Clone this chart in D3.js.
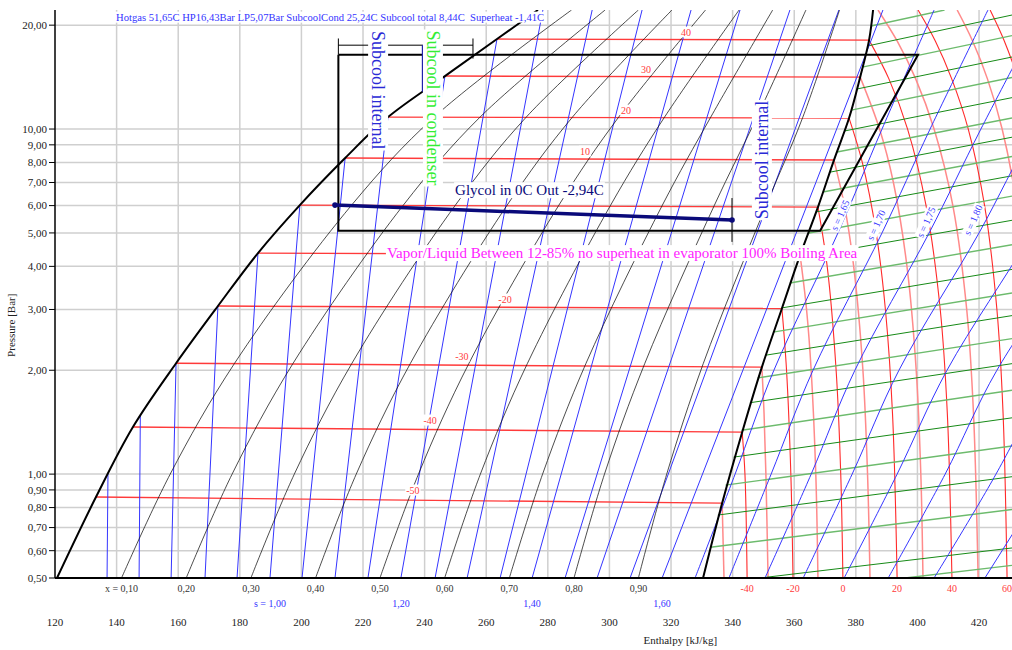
<!DOCTYPE html>
<html>
<head>
<meta charset="utf-8">
<script src="https://cdn.jsdelivr.net/npm/d3@7"></script>
<style>
  body { margin: 0; background: #fff; }
  svg { display: block; font-family: "Liberation Serif", "Times New Roman", serif; }
</style>
</head>
<body>
<svg id="chart" width="1012" height="650"></svg>
<script>
// ---- data ----
const hTicks = [120, 140, 160, 180, 200, 220, 240, 260, 280, 300, 320, 340, 360, 380, 400, 420];
const pTicks = [0.5, 0.6, 0.7, 0.8, 0.9, 1, 2, 3, 4, 5, 6, 7, 8, 9, 10, 20];
const pTickLabels = ["0,50", "0,60", "0,70", "0,80", "0,90", "1,00", "2,00", "3,00", "4,00", "5,00", "6,00", "7,00", "8,00", "9,00", "10,00", "20,00"];

// saturation dome (bar, kJ/kg)
const satLiqP = [0.5, 0.858, 1.369, 2.095, 3.07, 4.37, 6.02, 8.24, 10.83, 14.24, 18.23, 22.13];
const satLiqH = [120.65, 133.3, 145.3, 159.3, 172.9, 185.9, 199.5, 214.2, 228.1, 246.6, 263.5, 276.8];
const satVapP = [0.5, 0.824, 1.323, 2.042, 3.02, 4.31, 5.94, 8.13, 10.76, 14.14, 18.10, 22.13];
const satVapH = [330.4, 336.6, 343.1, 349.5, 356.0, 361.9, 367.7, 372.9, 377.8, 381.4, 384.3, 385.6];

// two-phase isotherms (index 1..10 of the dome arrays); 0 and -10 labels are hidden under notes
const isoTemps = [-50, -40, -30, -20, -10, 0, 10, 20, 30, 40];
const isoLabelH = [236.2, 241.8, 252.1, 266.1, null, null, 292.1, 305.4, 311.9, 324.9];

// quality lines
const qualities = [0.1, 0.2, 0.3, 0.4, 0.5, 0.6, 0.7, 0.8, 0.9];
const qualityLabels = ["x = 0,10", "0,20", "0,30", "0,40", "0,50", "0,60", "0,70", "0,80", "0,90"];
const qualityP = [0.5, 1.0, 2.095, 6.02, 10.83, 22.13];
const qualityH = [
  [141.6, 157.4, 178.3, 216.3, 243.1, 287.7],
  [162.6, 177.5, 197.3, 233.1, 258.0, 298.6],
  [183.6, 197.7, 216.4, 250.0, 273.0, 309.4],
  [204.6, 217.8, 235.4, 266.8, 288.0, 320.3],
  [225.5, 238.0, 254.4, 283.6, 303.0, 331.2],
  [246.5, 258.1, 273.4, 300.4, 317.9, 342.1],
  [267.5, 278.3, 292.4, 317.2, 332.9, 353.0],
  [288.5, 298.4, 311.5, 334.1, 347.9, 363.8],
  [309.4, 318.6, 330.5, 350.9, 362.8, 374.7]
];

// isentropes inside the dome: bottom at 0.5 bar, top on liquid line or chart top
const sTwoPhase = [0.75, 0.80, 0.85, 0.90, 0.95, 1.00, 1.05, 1.10, 1.15, 1.20, 1.25, 1.30, 1.35, 1.40, 1.45, 1.50, 1.55, 1.60];
const sBottomH = [136.9, 147.3, 157.7, 168.7, 179.1, 189.8, 200.2, 210.9, 221.6, 232.3, 243.4, 253.8, 264.5, 274.9, 285.6, 296.0, 306.7, 317.1];
const sTopH = [137.2, 147.7, 159.3, 172.9, 185.9, 199.5, 214.2, 228.1, 246.6, 263.5, 278.4, 294.4, 310.6, 326.5, 342.4, 358.6, 374.5, 388.8];
const sTopP = [1.0, 1.473, 2.095, 3.07, 4.37, 6.02, 8.24, 10.83, 14.24, 18.23, 22.13, 22.13, 22.13, 22.13, 22.13, 22.13, 22.13, 22.13];
const sBottomLabels = { "1.00": "s = 1,00", "1.20": "1,20", "1.40": "1,40", "1.60": "1,60" };

// superheated isentropes
const sSuper = [1.65, 1.70, 1.75, 1.80, 1.85, 1.90, 1.95, 2.00, 2.05];
const sSuperP = [0.5, 1, 2, 5, 10, 22.13];
const sSuperH = [
  [327.8, 340.8, 353.4, 374.2, 388.5, 405.4],
  [338.8, 352.5, 366.1, 388.5, 404.1, 422.9],
  [350.5, 365.5, 379.7, 403.8, 420.6, 440.8],
  [362.9, 378.8, 394.0, 420.0, 437.9, 462.2],
  [376.2, 393.4, 409.6, 437.2, 456.0],
  [390.5, 409.0, 425.8, 455.4],
  [405.4, 425.5, 443.1],
  [421.9, 443.1],
  [439.5, 461.9]
];
const sLabelText = ["s = 1,65", "s = 1,70", "s = 1,75", "s = 1,80"];
const sLabelH = [374.9, 386.6, 402.8, 418.1];
const sLabelP = [5.63, 5.27, 5.37, 5.45];

// superheated isotherms
const shTemps = [-50, -40, -30, -20, -10, 0, 10, 20, 30, 40, 50, 60, 70, 80];
const shPoints = [
  [[336.6, 0.824], [337.2, 0.5]],
  [[343.1, 1.323], [344.0, 1.0], [344.7, 0.5]],
  [[349.5, 2.042], [350.2, 1.5], [350.8, 1.0], [351.5, 0.5]],
  [[356.0, 3.02], [357.5, 2.0], [358.9, 1.0], [359.6, 0.5]],
  [[361.9, 4.31], [364.0, 3.0], [365.5, 2.0], [367.0, 1.0], [367.7, 0.5]],
  [[367.7, 5.94], [370.7, 4.0], [373.6, 2.0], [375.1, 1.0], [375.8, 0.5]],
  [[372.9, 8.13], [376.3, 6.0], [379.3, 4.0], [382.3, 2.0], [383.8, 1.0], [384.6, 0.5]],
  [[377.8, 10.76], [382.1, 8.0], [386.6, 5.0], [389.6, 3.0], [391.9, 1.5], [393.4, 0.5]],
  [[381.4, 14.14], [387.7, 10.0], [392.2, 7.0], [396.6, 4.0], [399.6, 2.0], [401.1, 1.0], [401.8, 0.5]],
  [[384.3, 18.10], [390.7, 14.0], [396.8, 10.0], [402.8, 6.0], [407.4, 3.0], [409.7, 1.5], [411.2, 0.5]],
  [[387.2, 22.13], [393.4, 18.0], [399.4, 14.0], [405.4, 10.0], [411.5, 6.0], [416.0, 3.0], [418.2, 1.5], [419.7, 0.5]],
  [[400.2, 22.13], [405.8, 18.0], [411.1, 14.0], [416.5, 10.0], [421.8, 6.0], [425.8, 3.0], [427.8, 1.5], [429.1, 0.5]],
  [[412.9, 22.13], [417.9, 18.0], [422.7, 14.0], [427.5, 10.0], [432.3, 6.0], [436.0, 3.0]],
  [[423.6, 22.13], [428.2, 18.0], [432.6, 14.0], [437.0, 10.0]]
];
const shLabelTemps = [-40, -20, 0, 20, 40, 60];

// isochores (start on vapour line, end on chart edge)
const vStartH = [384.9, 383.7, 382.1, 380.3, 378.5, 376.3, 373.9, 371.6, 369.3, 367.0, 364.4, 361.3, 358.6, 355.8, 353.1, 350.6, 348.1, 345.6, 342.9, 340.3, 337.7, 335.2, 332.8, 348.9, 396.0];
const vStartP = [19.89, 17.40, 15.12, 13.06, 11.35, 9.87, 8.58, 7.50, 6.57, 5.75, 4.99, 4.23, 3.58, 3.03, 2.58, 2.21, 1.90, 1.61, 1.34, 1.12, 0.929, 0.761, 0.614, 0.5, 0.5];
const vEndH = [408.8, 430.7, 430.7, 430.7, 430.7, 430.7, 430.7, 430.7, 430.7, 430.7, 430.7, 430.7, 430.7, 430.7, 430.7, 430.7, 430.7, 430.7, 430.7, 430.7, 430.7, 430.7, 430.7, 430.7, 430.7];
const vEndP = [22.13, 21.40, 18.66, 16.17, 14.10, 12.33, 10.77, 9.47, 8.33, 7.32, 6.39, 5.44, 4.62, 3.92, 3.35, 2.88, 2.47, 2.09, 1.75, 1.456, 1.206, 0.983, 0.790, 0.611, 0.544];

// refrigeration cycle
const cycleH = [212.0, 212.0, 368.4, 400.2, 212.0];
const cycleP = [16.43, 5.07, 5.07, 16.43, 16.43];
const glycolH = [210.9, 339.8];
const glycolP = [6.02, 5.45];

// ---- drawing ----
const svg = d3.select("#chart");
const x = d3.scaleLinear().domain([120, 430.7]).range([55, 1012]);
const y = d3.scaleLog().domain([0.5, 22.13]).range([578, 10]);
const line = d3.line().x(d => x(d[0])).y(d => y(d[1]));
const smooth = d3.line().x(d => x(d[0])).y(d => y(d[1])).curve(d3.curveCatmullRom);

svg.append("defs").append("clipPath").attr("id", "plot")
  .append("rect").attr("x", 55).attr("y", 10).attr("width", 957).attr("height", 568);

// grid
const grid = svg.append("g").attr("stroke", "#cfcfcf").attr("stroke-width", 1.5);
grid.selectAll("line.v").data(hTicks.slice(1)).join("line")
  .attr("x1", d => x(d)).attr("x2", d => x(d)).attr("y1", y(0.5)).attr("y2", y(22.13));
grid.selectAll("line.h").data(pTicks.slice(1)).join("line")
  .attr("x1", x(120)).attr("x2", x(430.7)).attr("y1", d => y(d)).attr("y2", d => y(d));

const plot = svg.append("g").attr("clip-path", "url(#plot)").attr("fill", "none");

// superheated isotherms
plot.append("g").selectAll("path").data(shPoints).join("path")
  .attr("d", d => smooth(d))
  .attr("stroke", (d, i) => i % 2 ? "#ff2a2a" : "#ff8a8a")
  .attr("stroke-width", (d, i) => i % 2 ? 1.1 : 1.5);

// two-phase isotherms
plot.append("g").selectAll("path").data(isoTemps).join("path")
  .attr("d", (d, i) => line([[satLiqH[i + 1], satLiqP[i + 1]], [satVapH[i + 1], satVapP[i + 1]]]))
  .attr("stroke", "#ff3a3a").attr("stroke-width", 1.4);

// isochores
plot.append("g").selectAll("path").data(vStartH).join("path")
  .attr("d", (d, i) => line([[vStartH[i], vStartP[i]], [vEndH[i], vEndP[i]]]))
  .attr("stroke", (d, i) => i % 2 ? "#178a17" : "#6dbb6d")
  .attr("stroke-width", (d, i) => i % 2 ? 1 : 1.4);

// isentropes
plot.append("g").selectAll("path").data(sTwoPhase).join("path")
  .attr("d", (d, i) => line([[sBottomH[i], 0.5], [sTopH[i], sTopP[i]]]))
  .attr("stroke", "#3535ff").attr("stroke-width", 1);
plot.append("g").selectAll("path").data(sSuperH).join("path")
  .attr("d", d => smooth(d.map((h, j) => [h, sSuperP[j]])))
  .attr("stroke", "#3535ff").attr("stroke-width", 1);

// quality lines
plot.append("g").selectAll("path").data(qualityH).join("path")
  .attr("d", d => smooth(d.map((h, j) => [h, qualityP[j]])))
  .attr("stroke", "#111").attr("stroke-width", 0.75);

// saturation dome
plot.append("path").attr("d", smooth(satLiqH.map((h, i) => [h, satLiqP[i]])))
  .attr("stroke", "#000").attr("stroke-width", 2);
plot.append("path").attr("d", smooth(satVapH.map((h, i) => [h, satVapP[i]])))
  .attr("stroke", "#000").attr("stroke-width", 2);

// cycle
plot.append("path").attr("d", line(cycleH.map((h, i) => [h, cycleP[i]])))
  .attr("stroke", "#000").attr("stroke-width", 2).attr("stroke-linejoin", "miter");
plot.append("path").attr("d", line([[212.0, 17.5], [255.7, 17.5]])).attr("stroke", "#000").attr("stroke-width", 1);
plot.append("path").attr("d", line([[212.0, 18.3], [212.0, 16.43]])).attr("stroke", "#000").attr("stroke-width", 1);
plot.append("path").attr("d", line([[255.7, 18.3], [255.7, 16.0]])).attr("stroke", "#000").attr("stroke-width", 1);
plot.append("path").attr("d", line([[339.8, 6.31], [339.8, 4.71]])).attr("stroke", "#000").attr("stroke-width", 1);
plot.append("path").attr("d", line([[239.5, 17.5], [239.5, 12.83]])).attr("stroke", "#1212a8").attr("stroke-width", 2.5);

// glycol line
plot.append("path").attr("d", line(glycolH.map((h, i) => [h, glycolP[i]])))
  .attr("stroke", "#0a0a7a").attr("stroke-width", 3.5);
plot.selectAll("circle.g").data(glycolH).join("circle")
  .attr("cx", d => x(d)).attr("cy", (d, i) => y(glycolP[i])).attr("r", 2.8).attr("fill", "#0a0a7a");

// axes
svg.append("line").attr("x1", 55).attr("x2", 55).attr("y1", y(22.13)).attr("y2", y(0.5)).attr("stroke", "#000").attr("stroke-width", 1.5);
svg.append("line").attr("x1", x(120)).attr("x2", x(430.7)).attr("y1", y(0.5)).attr("y2", y(0.5)).attr("stroke", "#000").attr("stroke-width", 2);

// text helper with white box behind
function boxed(parent, str, px, py, o) {
  const g = parent.append("g").attr("transform", `translate(${px},${py}) rotate(${o.rotate || 0})`);
  const t = g.append("text").text(str)
    .attr("text-anchor", o.anchor || "middle").attr("dominant-baseline", "central")
    .attr("font-size", o.size).attr("fill", o.fill).style("white-space", "pre");
  const b = t.node().getBBox();
  g.insert("rect", "text").attr("x", b.x - (o.pad || 1)).attr("y", b.y).attr("width", b.width + 2 * (o.pad || 1))
    .attr("height", b.height).attr("fill", "#fff");
  return g;
}

const ann = svg.append("g");
// isotherm labels in dome
isoTemps.forEach((t, i) => {
  if (isoLabelH[i] == null) return;
  boxed(ann, String(t), x(isoLabelH[i]), y(satLiqP[i + 1]) - 7, { size: 10, fill: "#ff3a3a", pad: 0 });
});
// entropy labels in superheat area
sLabelText.forEach((s, i) => {
  boxed(ann, s, x(sLabelH[i]), y(sLabelP[i]), { size: 10, fill: "#3535ff", rotate: -66, pad: 1 });
});

// annotations
boxed(ann, "Subcool internal", x(224.9), y(12.95), { size: 18, fill: "#2a2ad6", rotate: 90 });
boxed(ann, "Subcool in condenser", x(242.7), y(11.51), { size: 18, fill: "#33ee33", rotate: 90 });
boxed(ann, "Subcool internal", x(349.5), y(8.13), { size: 18, fill: "#2a2ad6", rotate: -90 });
boxed(ann, "Glycol in 0C Out -2,94C", x(249.9), y(6.65), { size: 15, fill: "#0a0a7a", anchor: "start" });
boxed(ann, "Vapor/Liquid Between 12-85% no superheat in evaporator 100% Boiling Area", x(304.1), y(4.37), { size: 15, fill: "#ff22ff" });
boxed(ann, "Hotgas 51,65C HP16,43Bar LP5,07Bar SubcoolCond 25,24C Subcool total 8,44C  Superheat -1,41C", x(139.8), y(21.1), { size: 10.6, fill: "#3333ff", anchor: "start" });

// y ticks
const yt = svg.append("g").attr("font-size", 11).attr("fill", "#222");
yt.selectAll("line").data(pTicks).join("line")
  .attr("x1", 49).attr("x2", 55).attr("y1", d => y(d)).attr("y2", d => y(d)).attr("stroke", "#000");
yt.selectAll("text").data(pTicks).join("text")
  .attr("x", 47).attr("y", d => y(d)).attr("dy", "0.35em").attr("text-anchor", "end")
  .text((d, i) => pTickLabels[i]);

// x ticks
svg.append("g").attr("font-size", 11).attr("fill", "#222").selectAll("text").data(hTicks).join("text")
  .attr("x", d => x(d)).attr("y", 626).attr("text-anchor", "middle").text(d => d);

// bottom family labels
svg.append("g").attr("font-size", 10).attr("fill", "#333").selectAll("text").data(qualityH).join("text")
  .attr("x", d => x(d[0])).attr("y", 592).attr("text-anchor", "middle").text((d, i) => qualityLabels[i]);
svg.append("g").attr("font-size", 10).attr("fill", "#3535ff").selectAll("text")
  .data(sTwoPhase.filter(s => sBottomLabels[s.toFixed(2)])).join("text")
  .attr("x", s => x(sBottomH[sTwoPhase.indexOf(s)])).attr("y", 607).attr("text-anchor", "middle")
  .text(s => sBottomLabels[s.toFixed(2)]);
svg.append("g").attr("font-size", 10).attr("fill", "#ff3a3a").selectAll("text").data(shLabelTemps).join("text")
  .attr("x", t => { const pts = shPoints[shTemps.indexOf(t)]; return x(pts[pts.length - 1][0]); })
  .attr("y", 592).attr("text-anchor", "middle").text(t => t);

// axis titles
svg.append("text").attr("x", x(323)).attr("y", 644).attr("text-anchor", "middle").attr("font-size", 11).attr("fill", "#222")
  .text("Enthalpy [kJ/kg]");
svg.append("text").attr("transform", `translate(15,${y(2.7)}) rotate(-90)`).attr("text-anchor", "middle")
  .attr("font-size", 11).attr("fill", "#222").text("Pressure [Bar]");
</script>
</body>
</html>
